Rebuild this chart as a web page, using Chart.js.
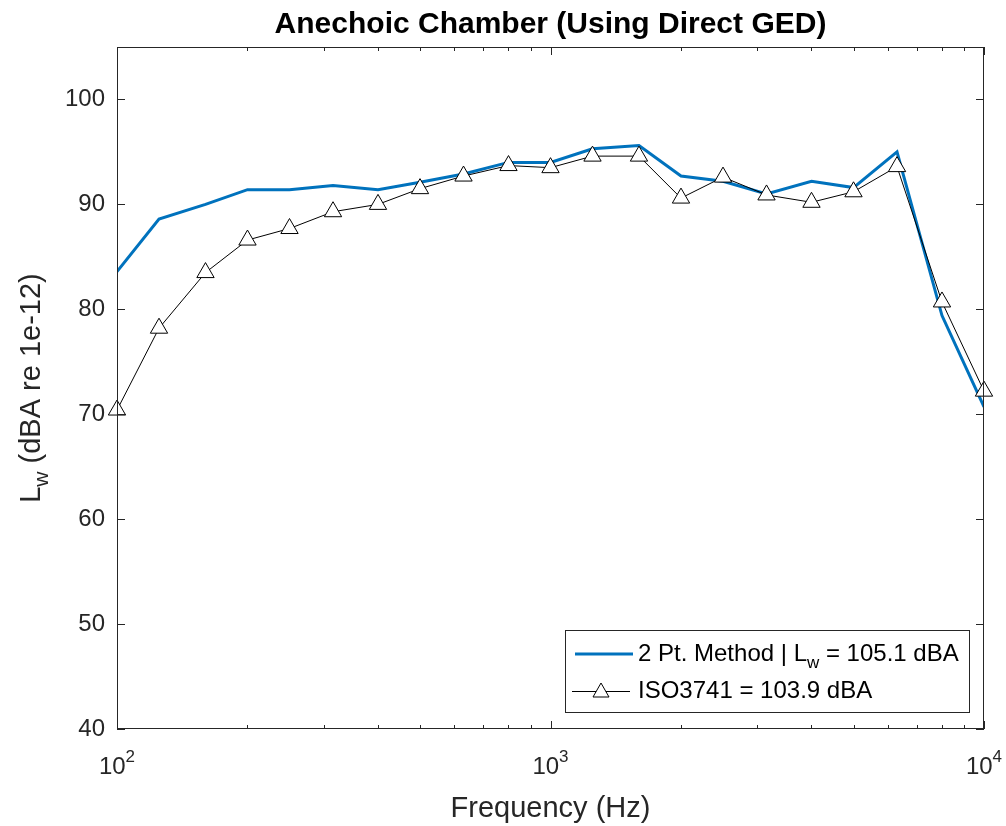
<!DOCTYPE html>
<html>
<head>
<meta charset="utf-8">
<script src="https://cdn.jsdelivr.net/npm/chart.js@4.4.1/dist/chart.umd.min.js"></script>
<style>
  html, body { margin: 0; padding: 0; background: #fff; }
  #wrap { width: 1006px; height: 826px; }
</style>
</head>
<body>
<div id="wrap"><canvas id="chart" width="1006" height="826"></canvas></div>
<script>
// 1/3 octave band centre frequencies (Hz)
const freqs = [100, 125, 160, 200, 250, 315, 400, 500, 630, 800, 1000,
  1250, 1600, 2000, 2500, 3150, 4000, 5000, 6300, 8000, 10000];
// sound power per band, dBA re 1e-12
const twoPoint = [83.6, 88.6, 90.0, 91.4, 91.4, 91.8, 91.4, 92.1, 92.9, 94.0, 94.0,
  95.3, 95.6, 92.7, 92.2, 91.0, 92.2, 91.6, 95.0, 79.4, 70.7];
const iso3741 = [70.4, 78.2, 83.5, 86.6, 87.7, 89.3, 90.0, 91.5, 92.7, 93.7, 93.5,
  94.6, 94.6, 90.6, 92.6, 90.9, 90.2, 91.2, 93.6, 80.7, 72.2];

const yTicks = [40, 50, 60, 70, 80, 90, 100];
const xMajor = [100, 1000, 10000];
const xExponents = ['2', '3', '4'];
const xMinor = [200, 300, 400, 500, 600, 700, 800, 900,
  2000, 3000, 4000, 5000, 6000, 7000, 8000, 9000];

const titleText = 'Anechoic Chamber (Using Direct GED)';
const xLabel = 'Frequency (Hz)';
const legendTwoPt = ['2 Pt. Method | L', 'w', ' = 105.1 dBA'];
const legendIso = 'ISO3741 = 103.9 dBA';

const BLUE = '#0072BD';
const AXIS = '#262626';
const FONT = '"Liberation Sans", Arial, Helvetica, sans-serif';

function pts(ys) { return freqs.map((f, i) => ({ x: f, y: ys[i] })); }

// box, inward ticks, labels, title and legend drawn the MATLAB way
const matlabAxes = {
  id: 'matlabAxes',
  afterDraw(chart) {
    const ctx = chart.ctx;
    const xs = chart.scales.x, ys = chart.scales.y;
    const a = chart.chartArea;
    ctx.save();
    ctx.strokeStyle = AXIS;
    ctx.lineWidth = 1;
    ctx.strokeRect(a.left + 0.5, a.top + 0.5, a.right - a.left - 1, a.bottom - a.top - 1);

    ctx.beginPath();
    yTicks.forEach((v) => {
      const y = Math.round(ys.getPixelForValue(v)) + 0.5;
      ctx.moveTo(a.left, y); ctx.lineTo(a.left + 8, y);
      ctx.moveTo(a.right, y); ctx.lineTo(a.right - 8, y);
    });
    xMajor.forEach((v) => {
      const x = Math.round(xs.getPixelForValue(v)) + 0.5;
      ctx.moveTo(x, a.bottom); ctx.lineTo(x, a.bottom - 8);
      ctx.moveTo(x, a.top); ctx.lineTo(x, a.top + 8);
    });
    xMinor.forEach((v) => {
      const x = Math.round(xs.getPixelForValue(v)) + 0.5;
      ctx.moveTo(x, a.bottom); ctx.lineTo(x, a.bottom - 4);
      ctx.moveTo(x, a.top); ctx.lineTo(x, a.top + 4);
    });
    ctx.stroke();

    // y tick labels
    ctx.fillStyle = AXIS;
    ctx.font = '24px ' + FONT;
    ctx.textAlign = 'right';
    ctx.textBaseline = 'middle';
    yTicks.forEach((v) => ctx.fillText(String(v), a.left - 12, ys.getPixelForValue(v)));

    // x tick labels 10^n
    ctx.textBaseline = 'alphabetic';
    ctx.textAlign = 'left';
    xMajor.forEach((v, i) => {
      ctx.font = '24px ' + FONT;
      const wb = ctx.measureText('10').width;
      ctx.font = '17px ' + FONT;
      const we = ctx.measureText(xExponents[i]).width;
      const x0 = xs.getPixelForValue(v) - (wb + we) / 2;
      ctx.font = '24px ' + FONT;
      ctx.fillText('10', x0, a.bottom + 45);
      ctx.font = '17px ' + FONT;
      ctx.fillText(xExponents[i], x0 + wb, a.bottom + 33);
    });

    // x label
    ctx.font = '29px ' + FONT;
    ctx.textAlign = 'center';
    ctx.fillText(xLabel, (a.left + a.right) / 2, a.bottom + 88);

    // y label with subscript, rotated
    ctx.save();
    ctx.translate(40, (a.top + a.bottom) / 2);
    ctx.rotate(-Math.PI / 2);
    ctx.textAlign = 'left';
    ctx.font = '29px ' + FONT;
    const wL = ctx.measureText('L').width;
    const wRest = ctx.measureText(' (dBA re 1e-12)').width;
    ctx.font = '21px ' + FONT;
    const wW = ctx.measureText('w').width;
    let cx = -(wL + wW + wRest) / 2;
    ctx.font = '29px ' + FONT;
    ctx.fillText('L', cx, 0); cx += wL;
    ctx.font = '21px ' + FONT;
    ctx.fillText('w', cx, 8); cx += wW;
    ctx.font = '29px ' + FONT;
    ctx.fillText(' (dBA re 1e-12)', cx, 0);
    ctx.restore();

    // title
    ctx.fillStyle = '#000';
    ctx.font = 'bold 30px ' + FONT;
    ctx.textAlign = 'center';
    ctx.fillText(titleText, (a.left + a.right) / 2, 33);

    // legend
    const lx = 565, ly = 630, lw = 404, lh = 82;
    ctx.fillStyle = '#fff';
    ctx.fillRect(lx, ly, lw, lh);
    ctx.strokeStyle = AXIS;
    ctx.lineWidth = 1;
    ctx.strokeRect(lx + 0.5, ly + 0.5, lw, lh);

    const r1 = ly + 24, r2 = ly + 61;
    ctx.strokeStyle = BLUE;
    ctx.lineWidth = 3;
    ctx.beginPath(); ctx.moveTo(575, r1); ctx.lineTo(633, r1); ctx.stroke();
    ctx.strokeStyle = '#000';
    ctx.lineWidth = 1;
    ctx.beginPath(); ctx.moveTo(572, r2 + 0.5); ctx.lineTo(630, r2 + 0.5); ctx.stroke();
    ctx.fillStyle = '#fff';
    ctx.beginPath();
    ctx.moveTo(601, r2 - 8); ctx.lineTo(609, r2 + 6); ctx.lineTo(593, r2 + 6); ctx.closePath();
    ctx.fill(); ctx.stroke();

    ctx.fillStyle = '#000';
    ctx.textAlign = 'left';
    ctx.textBaseline = 'middle';
    let tx = 638;
    ctx.font = '24px ' + FONT;
    ctx.fillText(legendTwoPt[0], tx, r1); tx += ctx.measureText(legendTwoPt[0]).width;
    ctx.font = '17px ' + FONT;
    ctx.fillText(legendTwoPt[1], tx, r1 + 9); tx += ctx.measureText(legendTwoPt[1]).width;
    ctx.font = '24px ' + FONT;
    ctx.fillText(legendTwoPt[2], tx, r1);
    ctx.fillText(legendIso, 638, r2);
    ctx.restore();
  }
};

new Chart(document.getElementById('chart'), {
  type: 'line',
  data: {
    datasets: [
      {
        label: '2 Pt. Method',
        data: pts(twoPoint),
        borderColor: BLUE,
        borderWidth: 3,
        pointRadius: 0,
        tension: 0,
        order: 2,
      },
      {
        label: 'ISO3741',
        data: pts(iso3741),
        borderColor: '#000',
        borderWidth: 1,
        pointStyle: 'triangle',
        pointRadius: 10,
        pointBackgroundColor: '#fff',
        pointBorderColor: '#000',
        pointBorderWidth: 1,
        tension: 0,
        clip: false,
        order: 1,
      },
    ],
  },
  options: {
    responsive: false,
    animation: false,
    layout: { padding: { left: 117, top: 47, right: 22, bottom: 97 } },
    plugins: { legend: { display: false }, tooltip: { enabled: false }, title: { display: false } },
    scales: {
      x: { type: 'logarithmic', min: 100, max: 10000, display: false },
      y: { type: 'linear', min: 40, max: 105, display: false },
    },
  },
  plugins: [matlabAxes],
});
</script>
</body>
</html>
